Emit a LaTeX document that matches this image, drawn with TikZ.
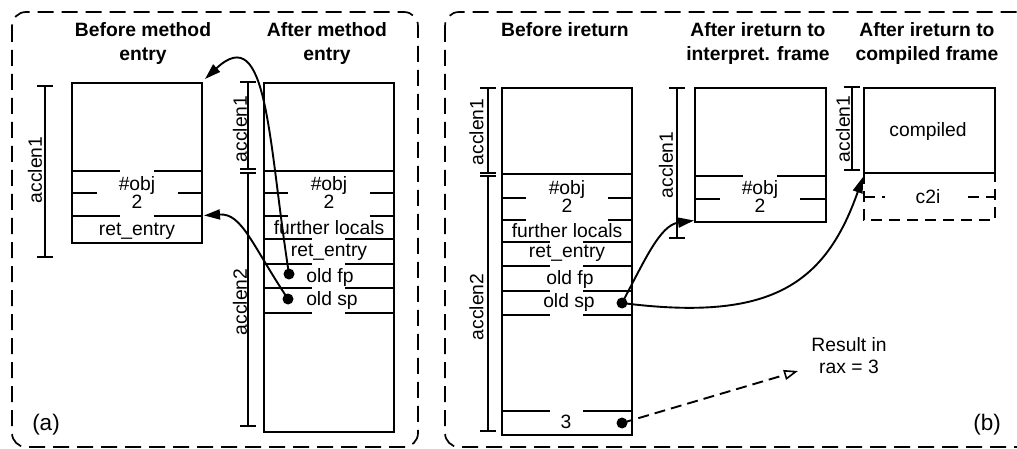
\documentclass[tikz,border=0pt]{standalone}
\usepackage{fontspec}
\setmainfont{Liberation Sans}
\usetikzlibrary{arrows.meta}
\begin{document}
\begin{tikzpicture}[x=1pt,y=-1pt,
  panel/.style={draw, line width=1.7pt, dash pattern=on 16pt off 8pt, rounded corners=14pt},
  frm/.style={draw, line width=2.2pt},
  sep/.style={line width=2.2pt},
  brk/.style={line width=2pt},
  txt/.style={font=\fontsize{19.3}{24}\selectfont, inner sep=0pt, text height=13.9pt, text depth=0pt},
  ttl/.style={txt, font=\fontsize{19.3}{24}\selectfont\bfseries},
  plab/.style={txt, font=\fontsize{22.5}{26}\selectfont, text height=16pt},
  lbl/.style={txt, rotate=90},
  dot/.style={circle, fill, inner sep=0pt, minimum size=11pt},
  arr/.style={line width=1.9pt, -{Triangle[length=16pt,width=10pt]}},
  darr/.style={line width=1.9pt, dash pattern=on 11pt off 6pt, -{Triangle[open,length=14pt,width=10pt,line width=1.6pt]}},
  dbox/.style={line width=2.2pt, dash pattern=on 11pt off 7pt},
]
\useasboundingbox (0,0) rectangle (1017,449);

% ---------------- panels
\draw[panel] (12,12) rectangle (418,447);
\draw[panel] (445,12) rectangle (1032,447);

% ================= panel (a)
\node[ttl] (tA1a) at (143,29.2) {Before method};
\node[ttl] (tA1b) at (143,53.2) {entry};
\node[ttl] (tA2a) at (327,29.2) {After method};
\node[ttl] (tA2b) at (327,53.2) {entry};

% left frame
\draw[frm] (72,82.7) rectangle (202,243.3);
\draw[sep] (72,171)--(120,171) (154,171)--(202,171);
\draw[sep] (72,193)--(97,193) (178,193)--(202,193);
\draw[sep] (72,216)--(120,216) (154,216)--(202,216);
\node[txt] (a1obj) at (137,184) {\#obj};
\node[txt] (a1two) at (137,201.5) {2};
\node[txt] (a1ret) at (137,229) {ret\_entry};
\draw[brk] (45,86)--(45,257) (37,86)--(53,86) (37,257)--(53,257);
\node[lbl] (a1len) at (35,170) {acclen1};

% right frame
\draw[frm] (264,82.7) rectangle (394,431.7);
\draw[sep] (264,171)--(394,171);
\draw[sep] (264,193)--(288,193) (370,193)--(394,193);
\draw[sep] (264,216)--(288,216) (370,216)--(394,216);
\foreach \yy in {239,264,288,313}
  \draw[sep] (264,\yy)--(312,\yy) (345,\yy)--(394,\yy);
\node[txt] (a2obj) at (329,184) {\#obj};
\node[txt] (a2two) at (329,201.5) {2};
\node[txt] (a2fl) at (329,228) {further locals};
\node[txt] (a2ret) at (329,250) {ret\_entry};
\node[txt] (a2fp) at (330,276) {old fp};
\node[txt] (a2sp) at (332,299) {old sp};
\draw[brk] (248,81.7)--(248,169.3) (240,81.7)--(256,81.7) (240,169.3)--(256,169.3)
  (240,172.7)--(256,172.7) (248,172.7)--(248,426) (240,426)--(256,426);
\node[lbl] (a2len1) at (240,129) {acclen1};
\node[lbl] (a2len2) at (240,302) {acclen2};

\node[dot] (fpA) at (289,274) {};
\node[dot] (spA) at (288,299) {};
\coordinate (tgtTop) at (205,79);
\coordinate (tgtRet) at (204,215.5);
\draw[arr] (fpA.center) .. controls (268,140) and (268,20) .. (tgtTop);
\draw[arr] (spA.center) .. controls (252,245) and (242,213) .. (tgtRet);

\node[plab] (labA) at (46,422) {(a)};

% ================= panel (b)
\node[ttl] (tB1) at (565,29.2) {Before ireturn};
\node[ttl] (tB2a) at (758,29.2) {After ireturn to};
\node[ttl] (tB2b) at (758,53.2) {interpret. frame};
\node[ttl] (tB3a) at (927,29.2) {After ireturn to};
\node[ttl] (tB3b) at (927,53.2) {compiled frame};

% frame before ireturn
\draw[frm] (502,87.7) rectangle (632,435);
\draw[sep] (502,174)--(632,174);
\draw[sep] (502,198)--(526,198) (608,198)--(632,198);
\draw[sep] (502,220)--(526,220) (608,220)--(632,220);
\foreach \yy in {242,266,291,315,411}
  \draw[sep] (502,\yy)--(550,\yy) (583,\yy)--(632,\yy);
\node[txt] (b1obj) at (567,188) {\#obj};
\node[txt] (b1two) at (567,206) {2};
\node[txt] (b1fl) at (567,231) {further locals};
\node[txt] (b1ret) at (567,251) {ret\_entry};
\node[txt] (b1fp) at (570,278) {old fp};
\node[txt] (b1sp) at (569,301) {old sp};
\node[txt] (b1three) at (566,422) {3};
\draw[brk] (488,87.7)--(488,172.7) (480,87.7)--(496,87.7) (480,172.7)--(496,172.7)
  (480,176)--(496,176) (488,176)--(488,430.7) (480,430.7)--(496,430.7);
\node[lbl] (b1len1) at (476.5,132) {acclen1};
\node[lbl] (b1len2) at (476.5,307) {acclen2};

% frame after ireturn to interpreted frame
\draw[frm] (695,88) rectangle (826,222);
\draw[sep] (695,176)--(743,176) (777,176)--(826,176);
\draw[sep] (695,199)--(720,199) (800,199)--(826,199);
\node[txt] (b2obj) at (760,188) {\#obj};
\node[txt] (b2two) at (760,206) {2};
\draw[brk] (677,88)--(677,238) (669,88)--(685,88) (669,238)--(685,238);
\node[lbl] (b2len) at (666,165) {acclen1};

% frame after ireturn to compiled frame
\draw[frm] (864,88) rectangle (995,173);
\node[txt] (b3comp) at (928,130) {compiled};
\draw[dbox] (864,173) rectangle (995,220);
\draw[dbox] (864,197)--(885,197) (968,197)--(995,197);
\node[txt] (b3c2i) at (928,197) {c2i};
\draw[brk] (852,87)--(852,170) (844,87)--(860,87) (844,170)--(860,170);
\node[lbl] (b3len) at (843,129) {acclen1};

% connectors
\node[dot] (spB) at (622,303) {};
\node[dot] (thrB) at (622,423) {};
\coordinate (tgtInt) at (694,220.5);
\coordinate (tgtComp) at (863,177);
\coordinate (tgtRes) at (798,371);
\draw[arr] (spB.center) .. controls (645,260) and (660,225) .. (tgtInt);
\draw[arr] (spB.center) .. controls (770,322) and (825,285) .. (tgtComp);
\draw[darr] (thrB.center) -- (tgtRes);

\node[txt] (resA) at (849,345) {Result in};
\node[txt] (resB) at (849,367) {rax = 3};
\node[plab] (labB) at (987,422) {(b)};
\end{tikzpicture}
\end{document}
